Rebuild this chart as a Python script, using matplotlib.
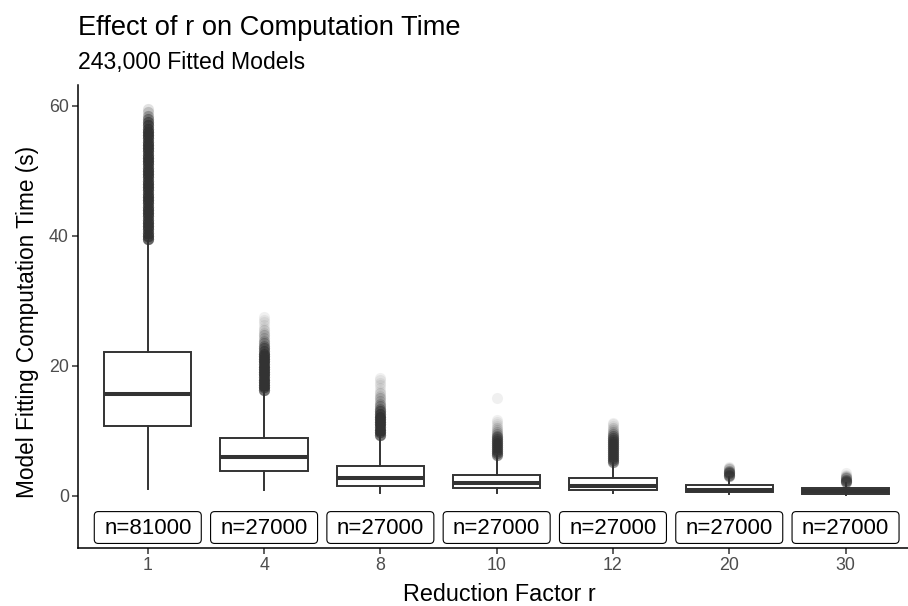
import numpy as np
import matplotlib.pyplot as plt
from matplotlib.patches import FancyBboxPatch

plt.rcParams['font.family'] = ['Liberation Sans', 'DejaVu Sans']

# reduction factor groups and box statistics (seconds)
r_levels = ["1", "4", "8", "10", "12", "20", "30"]
n_models = [81000, 27000, 27000, 27000, 27000, 27000, 27000]
whis_lo = [1.1, 0.9, 0.45, 0.5, 0.4, 0.3, 0.1]
q1 = [10.8, 3.8, 1.6, 1.3, 0.9, 0.57, 0.26]
med = [15.7, 6.0, 2.8, 1.95, 1.55, 0.95, 0.7]
q3 = [22.1, 8.9, 4.65, 3.2, 2.7, 1.7, 1.2]
whis_hi = [39.2, 16.0, 9.2, 6.1, 5.1, 2.9, 2.0]

# outliers: value bins and how many models fall near each one
out_vals = [
    [39.5, 40.0, 40.5, 41.0, 41.5, 42.0, 42.5, 43.0, 43.5, 44.0, 44.5, 45.0,
     45.5, 46.0, 46.5, 47.0, 47.5, 48.0, 48.5, 49.0, 49.5, 50.0, 50.5, 51.0,
     51.5, 52.0, 52.5, 53.0, 53.5, 54.0, 54.5, 55.0, 55.5, 56.0, 56.5, 57.0,
     57.5, 58.0, 58.5, 59.0, 59.5],
    [16.3, 16.7, 17.1, 17.5, 17.9, 18.3, 18.7, 19.1, 19.5, 19.9, 20.3, 20.7,
     21.1, 21.5, 21.9, 22.3, 22.7, 23.1, 23.5, 23.9, 24.3, 24.7, 25.1, 25.5,
     25.9, 26.3, 26.7, 27.1, 27.5],
    [9.4, 9.8, 10.2, 10.6, 11.0, 11.4, 11.8, 12.2, 12.6, 13.0, 13.4, 13.8,
     14.2, 14.6, 15.0, 15.4, 15.8, 16.2, 16.6, 17.0, 17.4, 17.8, 18.2],
    [6.3, 6.6, 6.9, 7.2, 7.5, 7.8, 8.1, 8.4, 8.7, 9.0, 9.3, 9.6, 9.9, 10.2,
     10.5, 10.8, 11.1, 11.4, 11.7, 15.0],
    [5.3, 5.6, 5.9, 6.2, 6.5, 6.8, 7.1, 7.4, 7.7, 8.0, 8.3, 8.6, 8.9, 9.2,
     9.5, 9.8, 10.1, 10.4, 10.7, 11.0, 11.3],
    [3.1, 3.3, 3.5, 3.7, 3.9, 4.1, 4.3, 4.5],
    [2.1, 2.3, 2.5, 2.7, 2.9, 3.1, 3.3, 3.5],
]
out_counts = [
    [18, 18, 18, 18, 18, 18, 18, 18, 18, 18, 18, 18, 18, 18, 18, 18, 18, 18,
     18, 18, 18, 18, 18, 18, 18, 18, 18, 18, 18, 18, 18, 18, 18, 18, 16, 14,
     11, 8, 5, 3, 2],
    [15, 15, 15, 15, 15, 15, 15, 15, 15, 15, 15, 15, 15, 15, 14, 11, 9, 7, 5,
     4, 3, 3, 2, 2, 1, 1, 1, 1, 1],
    [15, 15, 15, 15, 15, 15, 15, 15, 14, 10, 7, 5, 4, 3, 3, 2, 2, 1, 1, 1, 1,
     1, 1],
    [10, 10, 10, 10, 10, 10, 10, 10, 9, 7, 5, 4, 3, 2, 2, 1, 1, 1, 1, 1],
    [10, 10, 10, 10, 10, 10, 10, 10, 10, 10, 10, 10, 9, 7, 5, 3, 2, 2, 1, 1, 1],
    [8, 8, 8, 7, 5, 3, 2, 1],
    [8, 8, 7, 5, 3, 2, 1, 1],
]
label_y = -4.85

dark = '#333333'
fig = plt.figure(figsize=(9.08, 6.06), dpi=100)
ax = fig.add_axes([78 / 908, 58 / 606, 830 / 908, 463 / 606])

stats = []
for i in range(len(r_levels)):
    stats.append({'whislo': whis_lo[i], 'q1': q1[i], 'med': med[i],
                  'q3': q3[i], 'whishi': whis_hi[i], 'fliers': []})
pos = np.arange(len(r_levels))
ax.bxp(stats, positions=pos, widths=0.75, patch_artist=True, showcaps=False,
       showfliers=False,
       boxprops=dict(facecolor='white', edgecolor=dark, linewidth=1.4),
       medianprops=dict(color=dark, linewidth=2.9, solid_capstyle='butt'),
       whiskerprops=dict(color=dark, linewidth=1.4))

for i in range(len(r_levels)):
    ys = np.repeat(out_vals[i], out_counts[i])
    ax.scatter(np.full(len(ys), pos[i]), ys, s=64, color=dark, alpha=0.07,
               linewidths=0, zorder=3)

# n= labels in rounded boxes
half_w = 0.46
half_h = 2.45
for i, n in enumerate(n_models):
    box = FancyBboxPatch((pos[i] - half_w, label_y - half_h), 2 * half_w, 2 * half_h,
                         boxstyle="round,pad=0,rounding_size=0.035",
                         mutation_aspect=17.5, facecolor='white',
                         edgecolor='black', linewidth=0.8, zorder=4)
    ax.add_patch(box)
    ax.text(pos[i], label_y - 0.15, f"n={n}", ha='center', va='center',
            fontsize=16, color='black', zorder=5)

ax.set_xlim(-0.6, 6.537)
ax.set_ylim(-8.0, 63.23)
ax.set_xticks(pos)
ax.set_xticklabels(r_levels)
ax.set_yticks([0, 20, 40, 60])
ax.tick_params(axis='both', labelsize=12.8, labelcolor='#4d4d4d', color=dark,
               length=4, width=1.1, pad=2.5)
for side in ['top', 'right']:
    ax.spines[side].set_visible(False)
for side in ['left', 'bottom']:
    ax.spines[side].set_linewidth(1.1)
    ax.spines[side].set_color('black')

fig.text(499 / 908, 1 - 601 / 606, "Reduction Factor r", ha='center',
         va='baseline', fontsize=16.8)
fig.text(28 / 908, 1 - 322 / 606, "Model Fitting Computation Time (s)",
         rotation=90, ha='center', va='center', fontsize=16.3)
fig.text(78 / 908, 1 - 35 / 606, "Effect of r on Computation Time",
         ha='left', va='baseline', fontsize=19.6)
fig.text(78 / 908, 1 - 69 / 606, "243,000 Fitted Models",
         ha='left', va='baseline', fontsize=16.6)

fig.savefig("out.png", dpi=100)
